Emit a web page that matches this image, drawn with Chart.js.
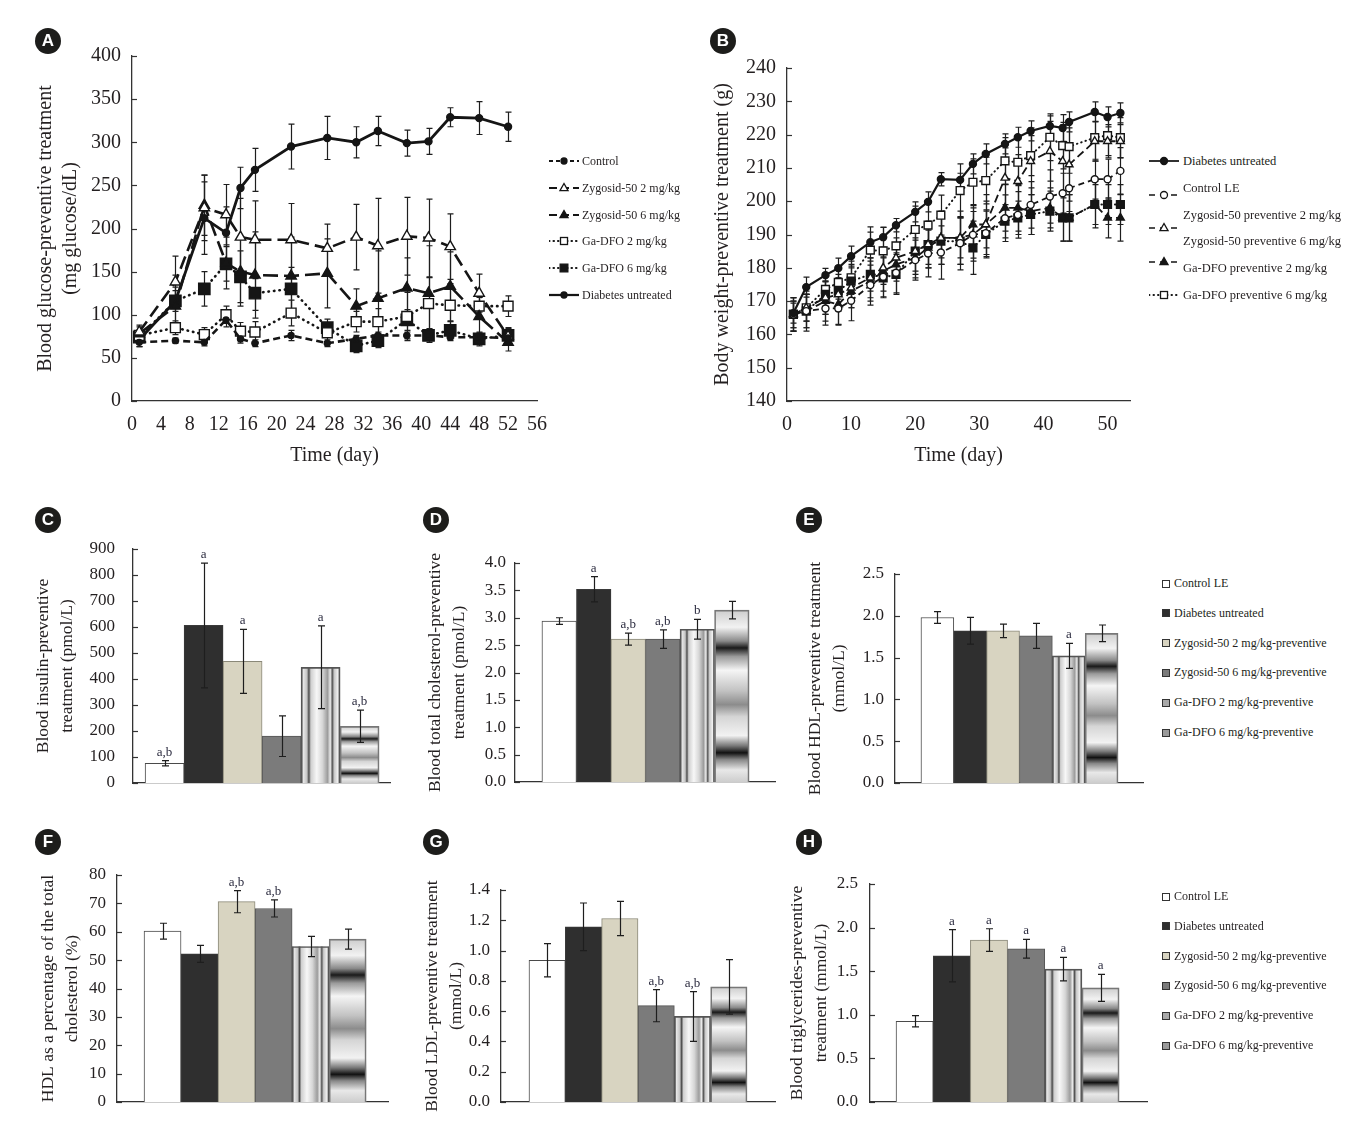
<!DOCTYPE html>
<html>
<head>
<meta charset="utf-8">
<title>Preventive treatment</title>
<script src="https://cdn.jsdelivr.net/npm/chart.js@4.4.1/dist/chart.umd.min.js"></script>
<style>
  body { margin: 0; width: 1365px; height: 1139px; position: relative; background: #fff; overflow: hidden;
         font-family: "Liberation Serif", "Times New Roman", serif; color: #231f20; }
  canvas { position: absolute; }
  .badge { position: absolute; width: 26px; height: 26px; border-radius: 50%; background: #1d1d1b; color: #fff;
           font: bold 17px "Liberation Sans", Arial, sans-serif; text-align: center; line-height: 26px; z-index: 2; }
  .lg { position: absolute; white-space: nowrap; line-height: 16px; z-index: 2; }
  .sym { position: absolute; z-index: 2; }
</style>
</head>
<body>
<script>
// ---- A: blood glucose (mg glucose/dL) ----
const glucoseDays = [1, 6, 10, 13, 15, 17, 22, 27, 31, 34, 38, 41, 44, 48, 52];
const glucoseControl = [68, 70, 68, 94, 72, 67, 76, 67, 72, 76, 76, 76, 74, 74, 73];
const glucoseControlSd = [5, 3, 4, 8, 5, 4, 6, 4, 4, 4, 4, 4, 4, 5, 4];
const glucoseZyg2 = [80, 138, 224, 216, 190, 187, 187, 177, 190, 180, 191, 189, 179, 125, 75];
const glucoseZyg2Sd = [8, 30, 38, 35, 45, 45, 42, 28, 38, 55, 45, 45, 38, 22, 10];
const glucoseZyg6 = [78, 110, 227, 160, 150, 146, 145, 148, 110, 119, 131, 125, 133, 98, 68];
const glucoseZyg6Sd = [8, 22, 35, 30, 40, 50, 45, 40, 20, 55, 35, 55, 40, 22, 10];
const glucoseGa2 = [76, 85, 77, 100, 81, 80, 102, 79, 92, 92, 98, 113, 111, 110, 110];
const glucoseGa2Sd = [6, 8, 8, 10, 10, 12, 15, 10, 12, 15, 28, 30, 25, 15, 12];
const glucoseGa6 = [74, 116, 130, 159, 144, 125, 130, 85, 64, 70, 94, 76, 82, 72, 76];
const glucoseGa6Sd = [5, 12, 20, 20, 30, 20, 25, 10, 8, 8, 12, 8, 10, 8, 8];
const glucoseDiabetes = [71, 116, 212, 195, 247, 268, 295, 305, 300, 313, 299, 301, 329, 328, 318];
const glucoseDiabetesSd = [8, 30, 42, 30, 24, 25, 26, 25, 18, 17, 15, 15, 11, 19, 17];
const glucoseLabels = ['Control', 'Zygosid-50 2 mg/kg', 'Zygosid-50 6 mg/kg', 'Ga-DFO 2 mg/kg', 'Ga-DFO 6 mg/kg', 'Diabetes untreated'];
const glucoseXTicks = [0, 4, 8, 12, 16, 20, 24, 28, 32, 36, 40, 44, 48, 52, 56];
const glucoseYTicks = [0, 50, 100, 150, 200, 250, 300, 350, 400];

// ---- B: body weight (g) ----
const weightDays = [1, 3, 6, 8, 10, 13, 15, 17, 20, 22, 24, 27, 29, 31, 34, 36, 38, 41, 43, 44, 48, 50, 52];
const weightDiabetes = [166.4, 174.2, 177.8, 179.9, 183.5, 187.7, 189.2, 192.8, 196.8, 199.8, 206.6, 206.4, 211.2, 214.2, 217.2, 219.2, 221.1, 222.6, 222, 223.8, 226.8, 225.3, 226.5];
const weightDiabetesSd = [3, 3, 2, 3, 3, 3, 3, 2, 3, 3, 2, 2, 3, 3, 3, 3, 3, 3, 4, 3, 3, 3, 3];
const weightControl = [166, 167, 167.8, 167.8, 170.1, 174.8, 177.3, 178.5, 182.3, 184.3, 184.6, 187.4, 189.9, 190.4, 194.9, 195.9, 198.9, 201.4, 202.4, 203.9, 206.6, 206.6, 209.1];
const weightControlSd = [5, 5, 5, 5, 6, 6, 6, 6, 6, 7, 8, 8, 7, 7, 7, 7, 7, 8, 6, 7, 6, 6, 7];
const weightZyg2 = [166, 168, 171, 172, 174, 177, 180, 183, 185, 187, 189, 189, 190, 193, 207, 206, 212, 215, 212, 211, 218, 218, 218];
const weightZyg2Sd = [4, 4, 5, 5, 6, 6, 5, 6, 7, 7, 8, 8, 8, 9, 9, 8, 10, 9, 11, 11, 6, 5, 5];
const weightZyg6 = [166, 167, 170, 169, 173, 176, 179, 181, 183, 186, 189, 189, 193, 193, 198, 198, 197, 198, 195, 195, 199, 195, 195];
const weightZyg6Sd = [5, 5, 6, 6, 5, 6, 6, 5, 6, 6, 6, 6, 6, 7, 7, 7, 7, 6, 7, 7, 7, 6, 7];
const weightGa2 = [166, 167, 172, 173, 176, 178, 177, 178, 185, 187, 188, 188, 186, 190, 194, 195, 196, 197, 195, 195, 199, 199, 199];
const weightGa2Sd = [5, 6, 6, 5, 5, 5, 6, 6, 6, 6, 7, 7, 8, 7, 5, 5, 6, 6, 7, 7, 6, 6, 6];
const weightGa6 = [166, 168, 173.5, 175.6, 177, 185.3, 185.1, 186.6, 191.5, 192.8, 195.8, 203.2, 205.7, 206.2, 212.1, 211.7, 213.7, 219.2, 216.7, 216.4, 219.1, 219.7, 219.1];
const weightGa6Sd = [4, 4, 5, 5, 5, 7, 7, 6, 7, 7, 6, 8, 7, 7, 7, 7, 6, 7, 7, 8, 7, 6, 6];
const weightLabels = ['Diabetes untreated', 'Control LE', 'Zygosid-50 preventive 2 mg/kg', 'Zygosid-50 preventive 6 mg/kg', 'Ga-DFO preventive 2 mg/kg', 'Ga-DFO preventive 6 mg/kg'];
const weightXTicks = [0, 10, 20, 30, 40, 50];
const weightYTicks = [140, 150, 160, 170, 180, 190, 200, 210, 220, 230, 240];

// ---- C-H: bar panels, same six groups ----
const groups = ['Control LE', 'Diabetes untreated', 'Zygosid-50 2 mg/kg-preventive', 'Zygosid-50 6 mg/kg-preventive', 'Ga-DFO 2 mg/kg-preventive', 'Ga-DFO 6 mg/kg-preventive'];

const insulinMean = [76, 606, 468, 180, 445, 218];
const insulinSd = [10, 240, 123, 78, 159, 62];
const insulinMarks = ['a,b', 'a', 'a', '', 'a', 'a,b'];
const insulinTicks = [0, 100, 200, 300, 400, 500, 600, 700, 800, 900];

const cholMean = [2.94, 3.52, 2.61, 2.61, 2.79, 3.14];
const cholSd = [0.06, 0.23, 0.11, 0.17, 0.18, 0.16];
const cholMarks = ['', 'a', 'a,b', 'a,b', 'b', ''];
const cholTicks = [0, 0.5, 1.0, 1.5, 2.0, 2.5, 3.0, 3.5, 4.0];

const hdlMean = [1.98, 1.82, 1.82, 1.76, 1.52, 1.79];
const hdlSd = [0.07, 0.16, 0.08, 0.15, 0.15, 0.10];
const hdlMarks = ['', '', '', '', 'a', ''];
const hdlTicks = [0, 0.5, 1.0, 1.5, 2.0, 2.5];

const hdlPctMean = [60.2, 52.2, 70.6, 68.2, 54.8, 57.4];
const hdlPctSd = [2.8, 3.0, 3.9, 3.0, 3.6, 3.5];
const hdlPctMarks = ['', '', 'a,b', 'a,b', '', ''];
const hdlPctTicks = [0, 10, 20, 30, 40, 50, 60, 70, 80];

const ldlMean = [0.936, 1.157, 1.212, 0.636, 0.565, 0.760];
const ldlSd = [0.11, 0.157, 0.113, 0.106, 0.164, 0.18];
const ldlMarks = ['', '', '', 'a,b', 'a,b', ''];
const ldlTicks = [0, 0.2, 0.4, 0.6, 0.8, 1.0, 1.2, 1.4];

const tgMean = [0.926, 1.677, 1.857, 1.757, 1.524, 1.309];
const tgSd = [0.065, 0.30, 0.13, 0.107, 0.134, 0.154];
const tgMarks = ['', 'a', 'a', 'a', 'a', 'a'];
const tgTicks = [0, 0.5, 1.0, 1.5, 2.0, 2.5];

// ---------------------------------------------------------------
const FONT = '"Liberation Serif", "Times New Roman", serif';
const INK = '#231f20';
Chart.defaults.font.family = FONT;
Chart.defaults.color = INK;

const barColors = ['#ffffff', '#2f2f2f', '#d8d4c1', '#7b7b7b', 'rgba(0,0,0,0)', 'rgba(0,0,0,0)'];
const barBorders = ['#4a4a4a', '#3a3a3a', '#8a8878', '#555555', '#555555', '#777777'];
const barFills = [null, null, null, null, 'columns', 'bands'];

function place(left, top, w, h) {
  const c = document.createElement('canvas');
  c.width = w; c.height = h;
  c.style.left = left + 'px'; c.style.top = top + 'px';
  document.body.appendChild(c);
  // chart area in page coords -> padding and axis sizes
  c.frame = area => ({
    padding: { top: area[1] - top, right: left + w - area[2], left: 0, bottom: 0 },
    yW: area[0] - left,
    xH: top + h - area[3]
  });
  return c;
}

function errorBars(cap, front) {
  const draw = chart => {
    const { ctx } = chart, y = chart.scales.y;
    chart.data.datasets.forEach((ds, di) => {
      if (!ds.errors) return;
      const meta = chart.getDatasetMeta(di);
      ctx.save();
      ctx.strokeStyle = '#1e1e1e'; ctx.lineWidth = 1.2; ctx.setLineDash([]);
      meta.data.forEach((el, i) => {
        const v = ds.data[i].y, e = ds.errors[i];
        const x = Math.round(el.x) + 0.5;
        const t = y.getPixelForValue(v + e), b = y.getPixelForValue(v - e);
        ctx.beginPath();
        ctx.moveTo(x, t); ctx.lineTo(x, b);
        ctx.moveTo(x - cap, t); ctx.lineTo(x + cap, t);
        ctx.moveTo(x - cap, b); ctx.lineTo(x + cap, b);
        ctx.stroke();
      });
      ctx.restore();
    });
  };
  return front ? { id: 'errorBars', afterDatasetsDraw: draw } : { id: 'errorBars', beforeDatasetsDraw: draw };
}

const inTicks = {
  id: 'inTicks',
  afterDraw(chart) {
    const { ctx, chartArea: a } = chart, y = chart.scales.y;
    ctx.save();
    ctx.strokeStyle = '#333'; ctx.lineWidth = 1.2;
    y.ticks.forEach(t => {
      const p = Math.round(y.getPixelForValue(t.value)) + 0.5;
      ctx.beginPath(); ctx.moveTo(a.left, p); ctx.lineTo(a.left + 5, p); ctx.stroke();
    });
    ctx.restore();
  }
};

const sigMarks = {
  id: 'sigMarks',
  afterDatasetsDraw(chart) {
    const { ctx } = chart, y = chart.scales.y;
    const ds = chart.data.datasets[0];
    const meta = chart.getDatasetMeta(0);
    ctx.save();
    ctx.font = '13px ' + FONT; ctx.fillStyle = '#2b2b3f';
    ctx.textAlign = 'center'; ctx.textBaseline = 'bottom';
    meta.data.forEach((el, i) => {
      if (!ds.marks[i]) return;
      ctx.fillText(ds.marks[i], el.x, y.getPixelForValue(ds.data[i].y + ds.errors[i]) - 2);
    });
    ctx.restore();
  }
};

// shaded "metal" fills for the two Ga-DFO bars
const metalFill = {
  id: 'metalFill',
  beforeDatasetsDraw(chart) {
    const { ctx } = chart;
    chart.getDatasetMeta(0).data.forEach((el, i) => {
      const kind = barFills[i];
      if (!kind) return;
      const { x, y, base, width } = el.getProps(['x', 'y', 'base', 'width'], true);
      const l = x - width / 2;
      let g, stops;
      if (kind === 'columns') {
        g = ctx.createLinearGradient(l, 0, l + width, 0);
        stops = [[0, '#8a8a8a'], [0.06, '#e6e6e6'], [0.15, '#c4c4c4'], [0.2, '#4a4a4a'], [0.25, '#cfcfcf'], [0.4, '#f7f7f7'],
                 [0.55, '#d6d6d6'], [0.68, '#9c9c9c'], [0.75, '#ececec'], [0.8, '#555'], [0.85, '#c8c8c8'], [0.94, '#f0f0f0'], [1, '#8e8e8e']];
      } else {
        g = ctx.createLinearGradient(0, y, 0, base);
        stops = [[0, '#cdcdcd'], [0.1, '#f2f2f2'], [0.18, '#8a8a8a'], [0.22, '#1a1a1a'], [0.27, '#9a9a9a'], [0.35, '#f5f5f5'],
                 [0.47, '#c2c2c2'], [0.55, '#8c8c8c'], [0.62, '#d5d5d5'], [0.73, '#f2f2f2'], [0.79, '#777'], [0.83, '#111'],
                 [0.87, '#888'], [0.93, '#e8e8e8'], [1, '#cdcdcd']];
      }
      stops.forEach(s => g.addColorStop(s[0], s[1]));
      ctx.save();
      ctx.fillStyle = g;
      ctx.fillRect(l, y, width, base - y);
      ctx.restore();
    });
  }
};

function axisY(frame, ticks, fmt, tickSize, tickPad, title, titleFont, titlePad) {
  return {
    min: ticks[0], max: ticks[ticks.length - 1],
    afterFit: s => { s.width = frame.yW; },
    afterBuildTicks: s => { s.ticks = ticks.map(v => ({ value: v })); },
    grid: { display: false, drawTicks: false },
    border: { color: '#333', width: 1.3 },
    ticks: { font: { size: tickSize }, color: INK, padding: tickPad, callback: v => fmt(v) },
    title: { display: true, text: title, color: INK, font: titleFont, padding: { top: titlePad, bottom: 0 } }
  };
}

function lineChart(canvas, area, p) {
  const frame = canvas.frame(area);
  new Chart(canvas, {
    type: 'line',
    data: {
      datasets: p.series.map((s, k) => ({
        label: p.labels[k],
        data: p.days.map((d, i) => ({ x: d, y: s[i] })),
        errors: p.errors[k],
        borderColor: '#151515', borderWidth: p.styles[k].w, borderDash: p.styles[k].dash,
        borderCapStyle: p.styles[k].cap || 'butt',
        pointStyle: p.styles[k].point, pointRadius: p.styles[k].r,
        pointBackgroundColor: p.styles[k].fill, pointBorderColor: '#151515', pointBorderWidth: 1.4,
        tension: 0, fill: false
      }))
    },
    options: {
      responsive: false, animation: false, events: [],
      layout: { padding: frame.padding },
      plugins: { legend: { display: false }, tooltip: { enabled: false } },
      scales: {
        x: {
          type: 'linear', offset: false, min: p.xTicks[0], max: p.xMax,
          afterFit: s => { s.height = frame.xH; },
          afterBuildTicks: s => { s.ticks = p.xTicks.map(v => ({ value: v })); },
          grid: { display: false, drawTicks: false },
          border: { color: '#333', width: 1.3 },
          ticks: { font: { size: 20 }, color: INK, padding: 12, maxRotation: 0 },
          title: { display: true, text: 'Time (day)', color: INK, font: { size: 20, lineHeight: 1.25 }, padding: { top: 0, bottom: p.xTitlePad } }
        },
        y: axisY(frame, p.yTicks, v => String(v), 20, 11, p.yTitle, { size: 20, lineHeight: 1.25 }, p.yTitlePad)
      }
    },
    plugins: [errorBars(3, false), inTicks]
  });
}

function barChart(canvas, area, p) {
  const frame = canvas.frame(area);
  new Chart(canvas, {
    type: 'bar',
    data: {
      labels: groups,
      datasets: [{
        data: p.mean.map((v, i) => ({ x: i, y: v })),
        errors: p.err, marks: p.marks,
        backgroundColor: barColors, borderColor: barBorders, borderWidth: 1,
        categoryPercentage: 1, barPercentage: 1
      }]
    },
    options: {
      responsive: false, animation: false, events: [],
      layout: { padding: frame.padding },
      plugins: { legend: { display: false }, tooltip: { enabled: false } },
      scales: {
        x: {
          type: 'linear', offset: false, min: p.xMin, max: p.xMax,
          afterFit: s => { s.height = frame.xH; },
          grid: { display: false, drawTicks: false },
          border: { color: '#333', width: 1.3 },
          ticks: { display: false }
        },
        y: axisY(frame, p.ticks, v => v.toFixed(p.dec), 17, p.tickPad, p.title, { size: 17.5, lineHeight: 1.37 }, p.titlePad)
      }
    },
    plugins: [metalFill, errorBars(3.5, true), inTicks, sigMarks]
  });
}

// ---- panels ----
lineChart(place(0, 20, 565, 460), [132, 56, 537, 401], {
  days: glucoseDays,
  series: [glucoseControl, glucoseZyg2, glucoseZyg6, glucoseGa2, glucoseGa6, glucoseDiabetes],
  errors: [glucoseControlSd, glucoseZyg2Sd, glucoseZyg6Sd, glucoseGa2Sd, glucoseGa6Sd, glucoseDiabetesSd],
  labels: glucoseLabels,
  styles: [
    { dash: [7, 4], point: 'circle', r: 3, fill: '#151515', w: 2.6 },
    { dash: [13, 6], point: 'triangle', r: 6, fill: '#ffffff', w: 2.6 },
    { dash: [15, 6], point: 'triangle', r: 6, fill: '#151515', w: 2.6 },
    { dash: [0.5, 5], cap: 'round', point: 'rect', r: 7, fill: '#ffffff', w: 2.6 },
    { dash: [0.5, 5], cap: 'round', point: 'rect', r: 8, fill: '#151515', w: 2.6 },
    { dash: [], point: 'circle', r: 3.5, fill: '#151515', w: 2.8 }
  ],
  xTicks: glucoseXTicks, xMax: 56, yTicks: glucoseYTicks,
  yTitle: ['Blood glucose-preventive treatment', '(mg glucose/dL)'], yTitlePad: 33, xTitlePad: 12
});

lineChart(place(700, 30, 465, 450), [787, 68, 1130, 401], {
  days: weightDays,
  series: [weightDiabetes, weightControl, weightZyg2, weightZyg6, weightGa2, weightGa6],
  errors: [weightDiabetesSd, weightControlSd, weightZyg2Sd, weightZyg6Sd, weightGa2Sd, weightGa6Sd],
  labels: weightLabels,
  styles: [
    { dash: [], point: 'circle', r: 3.5, fill: '#151515', w: 2.2 },
    { dash: [6, 4], point: 'circle', r: 3.5, fill: '#ffffff', w: 1.8 },
    { dash: [8, 4], point: 'triangle', r: 4.5, fill: '#ffffff', w: 1.8 },
    { dash: [8, 4], point: 'triangle', r: 4.5, fill: '#151515', w: 1.8 },
    { dash: [0.5, 4], cap: 'round', point: 'rect', r: 5.5, fill: '#151515', w: 2 },
    { dash: [0.5, 4], cap: 'round', point: 'rect', r: 5.5, fill: '#ffffff', w: 2 }
  ],
  xTicks: weightXTicks, xMax: 53.5, yTicks: weightYTicks,
  yTitle: 'Body weight-preventive treatment (g)', yTitlePad: 10, xTitlePad: 12
});

barChart(place(20, 509, 380, 311), [133, 549, 390, 783], {
  mean: insulinMean, err: insulinSd, marks: insulinMarks, ticks: insulinTicks, dec: 0,
  xMin: -0.81, xMax: 5.78, tickPad: 18, title: ['Blood insulin-preventive', 'treatment (pmol/L)'], titlePad: 11
});
barChart(place(410, 528, 375, 290), [515, 563, 775, 782], {
  mean: cholMean, err: cholSd, marks: cholMarks, ticks: cholTicks, dec: 1,
  xMin: -1.28, xMax: 6.25, tickPad: 9, title: ['Blood total cholesterol-preventive', 'treatment (pmol/L)'], titlePad: 13
});
barChart(place(790, 539, 365, 279), [895, 574, 1143, 783], {
  mean: hdlMean, err: hdlSd, marks: hdlMarks, ticks: hdlTicks, dec: 1,
  xMin: -1.29, xMax: 6.26, tickPad: 11, title: ['Blood HDL-preventive treatment', '(mmol/L)'], titlePad: 13
});
barChart(place(20, 840, 378, 297), [117, 875, 388, 1102], {
  mean: hdlPctMean, err: hdlPctSd, marks: hdlPctMarks, ticks: hdlPctTicks, dec: 0,
  xMin: -1.23, xMax: 6.09, tickPad: 11, title: ['HDL as a percentage of the total', 'cholesterol (%)'], titlePad: 16
});
barChart(place(405, 855, 380, 282), [501, 890, 775, 1102], {
  mean: ldlMean, err: ldlSd, marks: ldlMarks, ticks: ldlTicks, dec: 1,
  xMin: -1.27, xMax: 6.27, tickPad: 11, title: ['Blood LDL-preventive treatment', '(mmol/L)'], titlePad: 15
});
barChart(place(780, 849, 377, 288), [870, 884, 1147, 1102], {
  mean: tgMean, err: tgSd, marks: tgMarks, ticks: tgTicks, dec: 1,
  xMin: -1.2, xMax: 6.25, tickPad: 12, title: ['Blood triglycerides-preventive', 'treatment (mmol/L)'], titlePad: 5
});

// ---- badges and legends (HTML) ----
[['A', 48, 41], ['B', 723, 41], ['C', 48, 520], ['D', 436, 520], ['E', 809, 520], ['F', 48, 842], ['G', 436, 842], ['H', 809, 842]]
  .forEach(([t, cx, cy]) => {
    const d = document.createElement('div');
    d.className = 'badge'; d.textContent = t;
    d.style.left = (cx - 13) + 'px'; d.style.top = (cy - 13) + 'px';
    document.body.appendChild(d);
  });

function text(str, x, cy, size) {
  const d = document.createElement('div');
  d.className = 'lg'; d.textContent = str;
  d.style.left = x + 'px'; d.style.top = (cy - 8) + 'px'; d.style.fontSize = size + 'px';
  document.body.appendChild(d);
}

function lineSymbol(st, x, cy, w, scale) {
  const h = 16, m = h / 2, c = w / 2, r = st.r * scale;
  let mk = '';
  if (st.point === 'circle') mk = `<circle cx="${c}" cy="${m}" r="${r}" fill="${st.fill}" stroke="#151515" stroke-width="1.3"/>`;
  if (st.point === 'triangle') mk = `<polygon points="${c},${m - r} ${c - r * 0.9},${m + r * 0.6} ${c + r * 0.9},${m + r * 0.6}" fill="${st.fill}" stroke="#151515" stroke-width="1.3"/>`;
  if (st.point === 'rect') mk = `<rect x="${c - r * 0.7}" y="${m - r * 0.7}" width="${r * 1.4}" height="${r * 1.4}" fill="${st.fill}" stroke="#151515" stroke-width="1.3"/>`;
  const dash = st.dash.length ? `stroke-dasharray="${st.dash.map(v => v * scale).join(',')}"` : '';
  const d = document.createElement('div');
  d.className = 'sym';
  d.style.left = x + 'px'; d.style.top = (cy - m) + 'px';
  d.innerHTML = `<svg width="${w}" height="${h}"><line x1="0" y1="${m}" x2="${w}" y2="${m}" stroke="#151515" stroke-width="${st.w * 0.8}" stroke-linecap="${st.cap || 'butt'}" ${dash}/>${mk}</svg>`;
  document.body.appendChild(d);
}

const legA = [
  { dash: [4, 3], point: 'circle', r: 3, fill: '#151515', w: 2.6 },
  { dash: [8, 4], point: 'triangle', r: 4.5, fill: '#ffffff', w: 2.6 },
  { dash: [8, 4], point: 'triangle', r: 4.5, fill: '#151515', w: 2.6 },
  { dash: [0.5, 4], cap: 'round', point: 'rect', r: 5, fill: '#ffffff', w: 2.6 },
  { dash: [0.5, 4], cap: 'round', point: 'rect', r: 5.5, fill: '#151515', w: 2.6 },
  { dash: [], point: 'circle', r: 3, fill: '#151515', w: 2.8 }
];
glucoseLabels.forEach((lab, i) => {
  const cy = 161 + i * 26.8;
  lineSymbol(legA[i], 549, cy, 30, 1);
  text(lab, 582, cy, 12);
});

const legB = [
  { dash: [], point: 'circle', r: 3.5, fill: '#151515', w: 2.2 },
  { dash: [6, 5], point: 'circle', r: 3.5, fill: '#ffffff', w: 2 },
  { dash: [6, 5], point: 'triangle', r: 4.5, fill: '#ffffff', w: 2 },
  { dash: [6, 5], point: 'triangle', r: 4.5, fill: '#151515', w: 2 },
  { dash: [0.5, 4], cap: 'round', point: 'rect', r: 5, fill: '#ffffff', w: 2.4 }
];
weightLabels.forEach((lab, i) => text(lab, 1183, 161 + i * 26.8, 12.5));
legB.forEach((st, i) => lineSymbol(st, 1149, 161 + i * 33.5, 30, 1));

const swatch = ['#ffffff', '#2f2f2f', '#d8d4c1', '#7b7b7b', '#a9a9a9', '#9a9a9a'];
[583, 896].forEach(y0 => {
  groups.forEach((lab, i) => {
    const cy = y0 + i * 29.8;
    const s = document.createElement('div');
    s.className = 'sym';
    s.style.cssText += `left:1162px;top:${cy - 3.5}px;width:6px;height:6px;border:1px solid #333;background:${swatch[i]}`;
    document.body.appendChild(s);
    text(lab, 1174, cy, 12);
  });
});
</script>
</body>
</html>
